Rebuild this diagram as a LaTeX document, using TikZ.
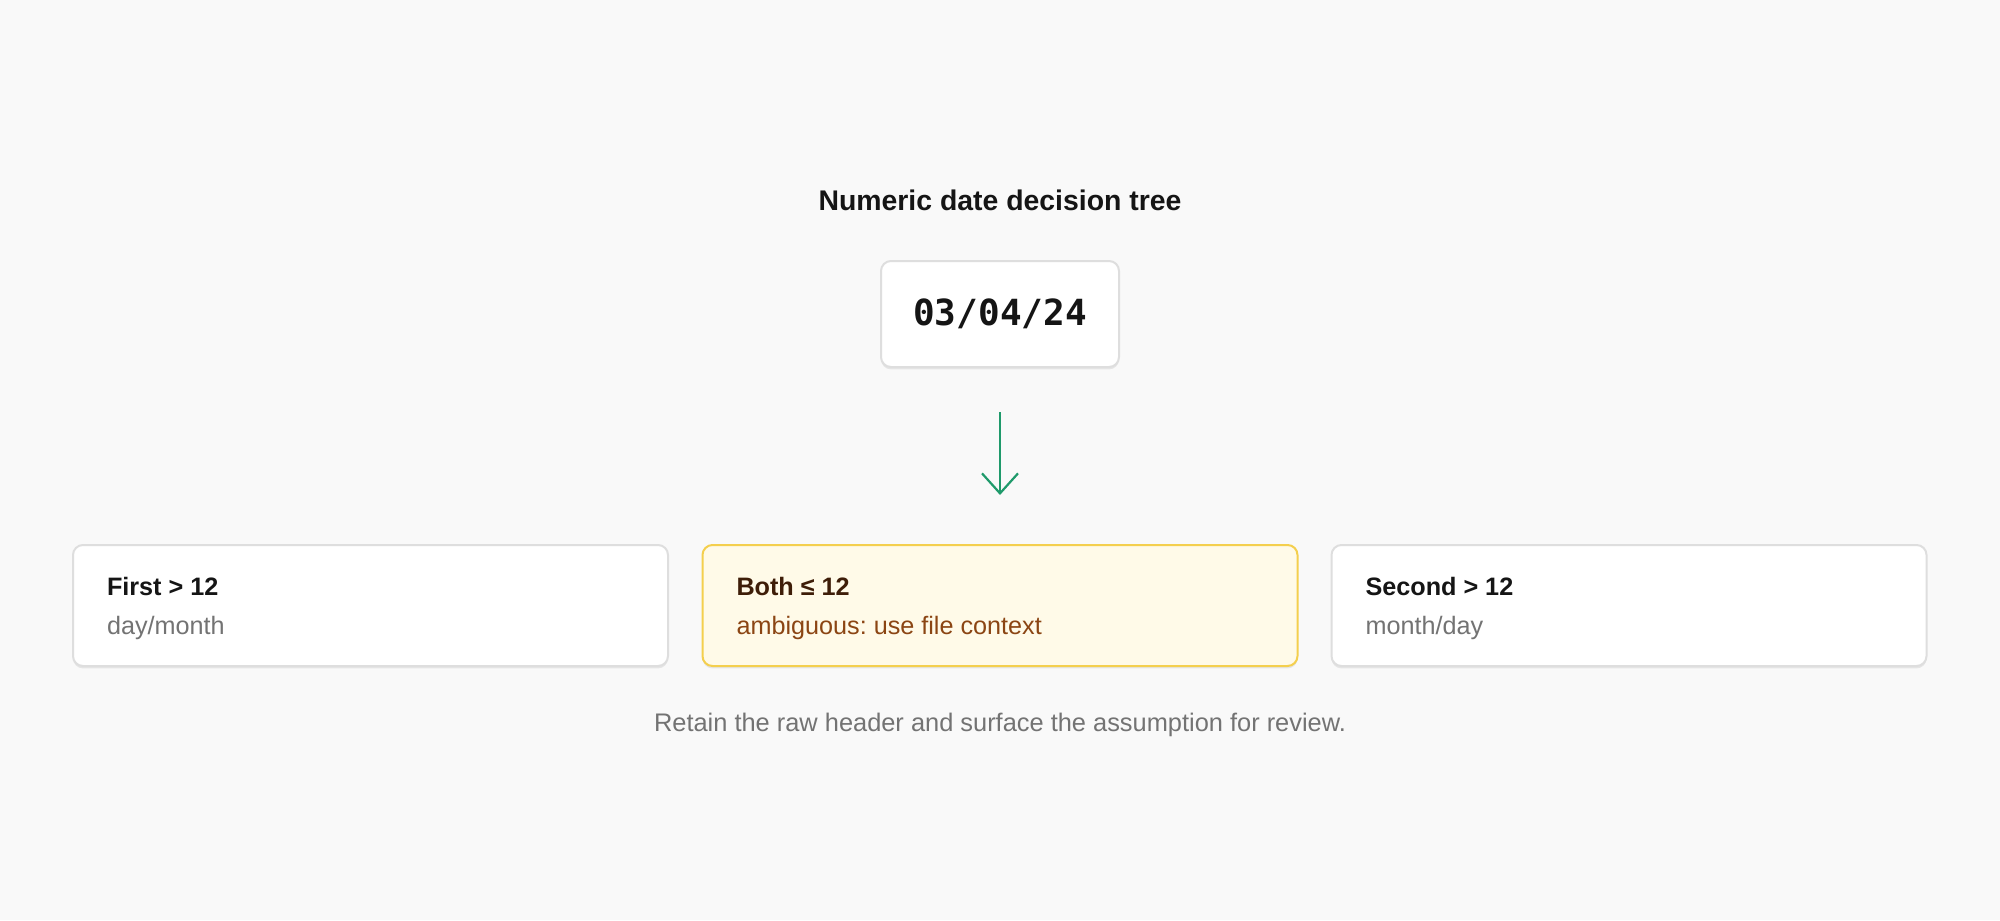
\documentclass[tikz,border=0pt]{standalone}
\usepackage{fontspec}
\setmainfont{Liberation Sans}
\newfontfamily\datefont{DejaVu Sans Mono}
\usetikzlibrary{arrows.meta,shadows}
\definecolor{bg}{HTML}{F9F9F9}
\definecolor{ink}{HTML}{151515}
\definecolor{edge}{HTML}{DEDEDE}
\definecolor{subtxt}{HTML}{737373}
\definecolor{amberfill}{HTML}{FFFAE8}
\definecolor{amberedge}{HTML}{F4CF4E}
\definecolor{ambertitle}{HTML}{3E1D08}
\definecolor{ambertxt}{HTML}{8B4513}
\definecolor{arrowgreen}{HTML}{1F9A6B}
\newcommand{\cardtop}{\rule{0pt}{12pt}}
\frenchspacing

\begin{document}
\begin{tikzpicture}[x=0.5pt,y=-0.5pt,line width=1pt,
  soft/.style={drop shadow={shadow xshift=0pt,shadow yshift=-1.2pt,opacity=0.08,fill=black}},
  card/.style={draw=edge,fill=white,rounded corners=5pt,soft,minimum width=297.5pt,minimum height=60.5pt,
    text width=263.5pt,inner xsep=17pt,align=flush left,font=\fontsize{12.6}{14}\selectfont},
  hit/.style={card,draw=amberedge,fill=amberfill},
  datebox/.style={draw=edge,fill=white,rounded corners=5pt,soft,minimum width=119pt,minimum height=53pt,
    font=\datefont\bfseries\fontsize{18}{20}\selectfont,text=ink}]
\useasboundingbox (0,0) rectangle (2000,920);
\fill[bg] (0,0) rectangle (2000,920);
\node[font=\bfseries\fontsize{14.2}{16}\selectfont,text=ink] (title) at (1000,200) {Numeric date decision tree};
\node[datebox] (date) at (1000,314) {03/04/24};
% the three outcomes
\node[card] (c1) at (370.5,605.5) {\cardtop\textbf{\color{ink}First > 12}\\[5.5pt]{\color{subtxt}day/month}};
\node[hit] (c2) at (1000,605.5) {\cardtop\textbf{\color{ambertitle}Both ≤ 12}\\[5.5pt]{\color{ambertxt}ambiguous: use file context}};
\node[card] (c3) at (1629,605.5) {\cardtop\textbf{\color{ink}Second > 12}\\[5.5pt]{\color{subtxt}month/day}};
\draw[arrowgreen,line width=1.1pt,-{Straight Barb[length=10pt,width=18pt]},shorten <=22pt,shorten >=24.5pt] (date.south) -- (c2.north);
\node[font=\fontsize{12.7}{14}\selectfont,text=subtxt] (note) at (1000,724.5) {Retain the raw header and surface the assumption for review.};
\end{tikzpicture}
\end{document}
